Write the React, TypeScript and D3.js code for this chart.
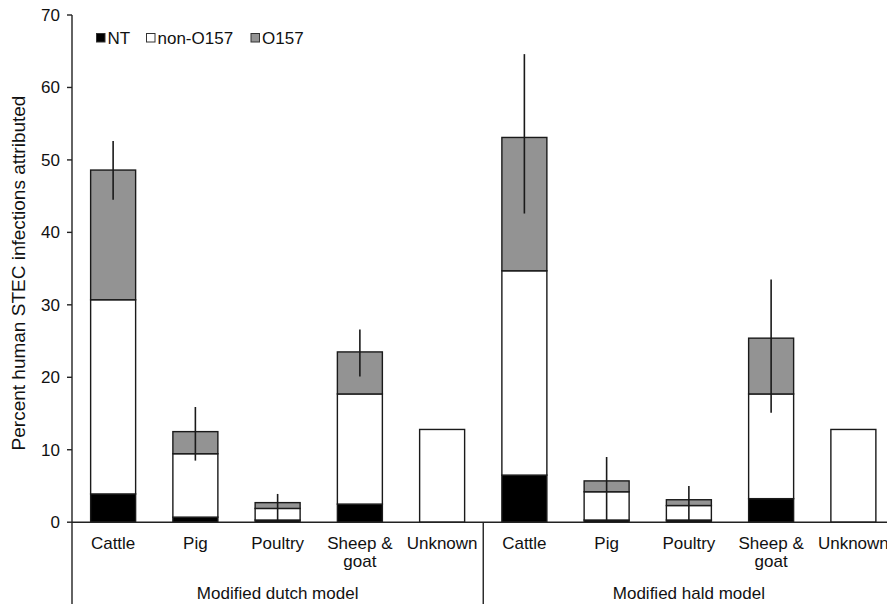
import React from 'react';
import * as d3 from 'd3';

const models = ['Modified dutch model', 'Modified hald model'];
const sources = ['Cattle', 'Pig', 'Poultry', 'Sheep & goat', 'Unknown'];
const seriesNames = ['NT', 'non-O157', 'O157'];

// percent attributed, per source, for each model
const ntDutch = [3.9, 0.7, 0.3, 2.5, 0];
const nonO157Dutch = [26.8, 8.75, 1.6, 15.2, 12.8];
const o157Dutch = [17.9, 3.05, 0.8, 5.8, 0];
const ntHald = [6.5, 0.3, 0.3, 3.25, 0];
const nonO157Hald = [28.2, 3.9, 2.0, 14.45, 12.8];
const o157Hald = [18.4, 1.5, 0.8, 7.7, 0];

// error bar limits (null = no bar)
const lowDutch = [44.5, 8.5, 0.3, 20.1, null];
const highDutch = [52.6, 15.9, 3.9, 26.6, null];
const lowHald = [42.6, 0.3, 0.3, 15.1, null];
const highHald = [64.6, 9.0, 5.0, 33.5, null];

const yTicks = [0, 10, 20, 30, 40, 50, 60, 70];

const colors: Record<string, string> = { NT: '#000000', 'non-O157': '#ffffff', O157: '#939393' };
const font = 'Liberation Sans, Arial, sans-serif';

export default function App() {
  const width = 887;
  const height = 604;
  const left = 72;
  const zeroY = 522.2;
  const topY = 15;

  // build rows: one per (model, source)
  const rows = models.flatMap((m, mi) =>
    sources.map((s, si) => ({
      key: m + '|' + s,
      model: m,
      source: s,
      NT: (mi === 0 ? ntDutch : ntHald)[si],
      'non-O157': (mi === 0 ? nonO157Dutch : nonO157Hald)[si],
      O157: (mi === 0 ? o157Dutch : o157Hald)[si],
      low: (mi === 0 ? lowDutch : lowHald)[si],
      high: (mi === 0 ? highDutch : highHald)[si],
    }))
  );

  const x = d3
    .scaleBand()
    .domain(rows.map((r) => r.key))
    .range([left, left + 10 * 82.25])
    .paddingInner(0.453)
    .paddingOuter(0.2265);

  const y = d3.scaleLinear().domain([0, 70]).range([zeroY, topY]);

  const stacked = d3.stack<any>().keys(seriesNames)(rows);

  const groupX = (mi: number) => left + (mi + 0.5) * 5 * x.step();

  return (
    <svg
      width={width}
      height={height}
      style={{ position: 'absolute', left: 0, top: 0, background: '#fff' }}
      fontFamily={font}
    >
      {/* bars */}
      {stacked.map((layer) =>
        layer.map((d, i) => {
          const h = y(d[0]) - y(d[1]);
          if (h <= 0) return null;
          return (
            <rect
              key={layer.key + i}
              x={x(rows[i].key)}
              y={y(d[1])}
              width={x.bandwidth()}
              height={h}
              fill={colors[layer.key]}
              stroke="#1a1a1a"
              strokeWidth={1.4}
            />
          );
        })
      )}

      {/* error bars */}
      {rows.map((r) =>
        r.low == null ? null : (
          <line
            key={'e' + r.key}
            x1={(x(r.key) as number) + x.bandwidth() / 2}
            x2={(x(r.key) as number) + x.bandwidth() / 2}
            y1={y(r.low as number)}
            y2={y(r.high as number)}
            stroke="#1a1a1a"
            strokeWidth={1.6}
          />
        )
      )}

      {/* y axis */}
      <line x1={left} x2={left} y1={topY} y2={height} stroke="#222" strokeWidth={1.4} />
      {yTicks.map((t) => (
        <g key={t}>
          <line x1={left - 5} x2={left} y1={y(t)} y2={y(t)} stroke="#222" strokeWidth={1.4} />
          <text x={left - 12} y={y(t)} dy="0.35em" textAnchor="end" fontSize={17} fill="#111">
            {t}
          </text>
        </g>
      ))}
      <text
        transform={`translate(25,273) rotate(-90)`}
        textAnchor="middle"
        fontSize={19}
        fill="#111"
      >
        Percent human STEC infections attributed
      </text>

      {/* x axis */}
      <line x1={left} x2={width} y1={zeroY} y2={zeroY} stroke="#222" strokeWidth={1.4} />
      <line
        x1={left + 5 * x.step()}
        x2={left + 5 * x.step()}
        y1={zeroY}
        y2={height}
        stroke="#222"
        strokeWidth={1.4}
      />
      {rows.map((r) => {
        const cx = (x(r.key) as number) + x.bandwidth() / 2;
        const lines = r.source === 'Sheep & goat' ? ['Sheep &', 'goat'] : [r.source];
        return (
          <text key={'l' + r.key} x={cx} y={548.5} textAnchor="middle" fontSize={17} fill="#111">
            {lines.map((ln, k) => (
              <tspan key={k} x={cx} dy={k === 0 ? 0 : 18}>
                {ln}
              </tspan>
            ))}
          </text>
        );
      })}
      {models.map((m, mi) => (
        <text key={m} x={groupX(mi)} y={599} textAnchor="middle" fontSize={17} fill="#111">
          {m}
        </text>
      ))}

      {/* legend */}
      {seriesNames.map((s, i) => {
        const lx = [96.5, 146.5, 251][i];
        return (
          <g key={s}>
            <rect x={lx} y={33.5} width={8.5} height={8.5} fill={colors[s]} stroke="#333" strokeWidth={1} />
            <text x={lx + 11} y={38} dy="0.35em" fontSize={17} fill="#111">
              {s}
            </text>
          </g>
        );
      })}
    </svg>
  );
}
